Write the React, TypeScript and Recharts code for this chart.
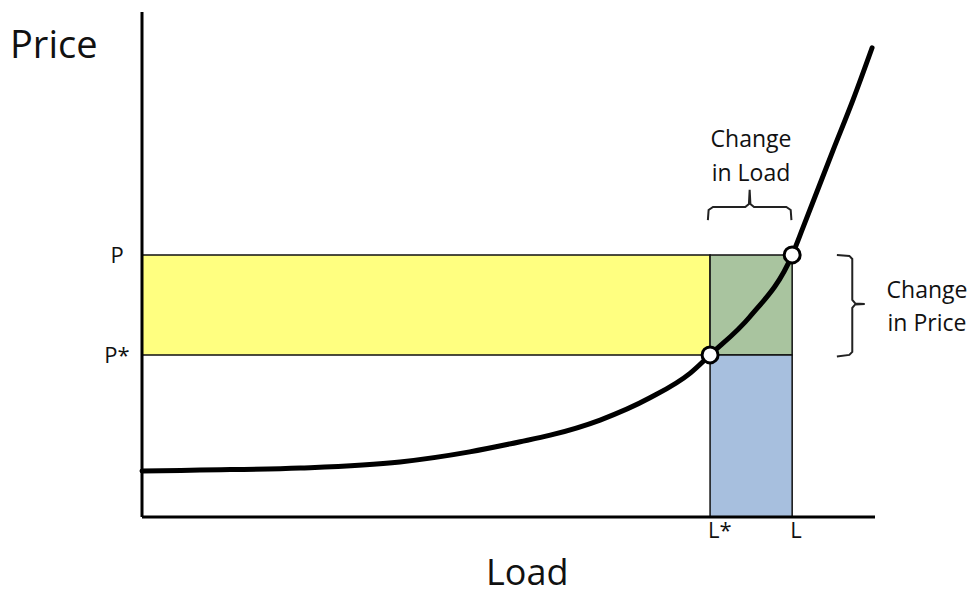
import React from 'react';
import {
  ComposedChart,
  Line,
  XAxis,
  YAxis,
  ReferenceArea,
  ReferenceDot,
} from 'recharts';

// supply curve (load 0-100, price 0-100)
const curve = [
  { load: 0, price: 9.1 },
  { load: 7.9, price: 9.3 },
  { load: 21.6, price: 9.7 },
  { load: 35.2, price: 10.9 },
  { load: 44.7, price: 12.9 },
  { load: 51.6, price: 14.9 },
  { load: 55.7, price: 16.2 },
  { load: 62.5, price: 19.2 },
  { load: 69.3, price: 23.6 },
  { load: 74.8, price: 28.5 },
  { load: 77.5, price: 32.1 },
  { load: 82.9, price: 39.6 },
  { load: 88.7, price: 51.9 },
  { load: 90.2, price: 57.4 },
  { load: 94.3, price: 72.7 },
  { load: 97.0, price: 82.6 },
  { load: 99.6, price: 92.9 },
];

const loadTicks = [77.5, 88.7];
const loadLabels = ['L*', 'L'];
const priceTicks = [32.1, 51.9];
const priceLabels = ['P*', 'P'];

// annotation braces
const loadBrace = [
  { load: 77.2, price: 58.8 },
  { load: 77.3, price: 60.8 },
  { load: 77.9, price: 61.4 },
  { load: 82.3, price: 61.4 },
  { load: 82.8, price: 62.0 },
  { load: 82.9, price: 64.8 },
  { load: 83.0, price: 62.0 },
  { load: 83.5, price: 61.4 },
  { load: 87.9, price: 61.4 },
  { load: 88.5, price: 60.8 },
  { load: 88.6, price: 58.8 },
];
const priceBrace = [
  { load: 94.8, price: 51.9 },
  { load: 96.5, price: 51.7 },
  { load: 96.9, price: 51.1 },
  { load: 96.9, price: 43.0 },
  { load: 97.3, price: 42.3 },
  { load: 98.6, price: 42.2 },
  { load: 97.3, price: 42.1 },
  { load: 96.9, price: 41.4 },
  { load: 96.9, price: 32.7 },
  { load: 96.5, price: 32.1 },
  { load: 94.8, price: 31.8 },
];

const font = '"Open Sans", sans-serif';

const XTick = (props: any) => {
  const { x, y, payload } = props;
  const i = loadTicks.indexOf(payload.value);
  return (
    <text x={x - 2} y={y + 13} textAnchor="start" fontSize={22} fontFamily={font} fill="#111">
      {loadLabels[i]}
    </text>
  );
};

const YTick = (props: any) => {
  const { y, payload } = props;
  const i = priceTicks.indexOf(payload.value);
  return (
    <text x={117} y={y + 8} textAnchor="middle" fontSize={22} fontFamily={font} fill="#111">
      {priceLabels[i]}
    </text>
  );
};

const textStyle: React.CSSProperties = {
  position: 'absolute',
  fontFamily: font,
  color: '#111',
  lineHeight: 1,
  whiteSpace: 'nowrap',
};

export default function App() {
  return (
    <div style={{ position: 'absolute', left: 0, top: 0, width: 977, height: 596, background: '#fff' }}>
      <ComposedChart
        width={977}
        height={596}
        data={curve}
        margin={{ top: 12, right: 102, bottom: 39, left: 0 }}
      >
        <XAxis
          dataKey="load"
          type="number"
          domain={[0, 100]}
          ticks={loadTicks}
          tick={<XTick />}
          tickLine={false}
          axisLine={{ stroke: '#000', strokeWidth: 3 }}
          height={40}
        />
        <YAxis
          type="number"
          domain={[0, 100]}
          ticks={priceTicks}
          tick={<YTick />}
          tickLine={false}
          axisLine={{ stroke: '#000', strokeWidth: 3 }}
          width={142}
        />
        <ReferenceArea x1={0} x2={77.5} y1={32.1} y2={51.9} fill="#FFFF80" fillOpacity={1} stroke="#111" strokeWidth={1.5} />
        <ReferenceArea x1={77.5} x2={88.7} y1={32.1} y2={51.9} fill="#A9C49F" fillOpacity={1} stroke="#111" strokeWidth={1.5} />
        <ReferenceArea x1={77.5} x2={88.7} y1={0} y2={32.1} fill="#A7BFDE" fillOpacity={1} stroke="#111" strokeWidth={1.5} />
        <Line
          dataKey="price"
          type="monotone"
          stroke="#000"
          strokeWidth={5}
          strokeLinecap="round"
          dot={false}
          isAnimationActive={false}
        />
        <Line data={loadBrace} dataKey="price" type="linear" stroke="#222" strokeWidth={2} dot={false} isAnimationActive={false} />
        <Line data={priceBrace} dataKey="price" type="linear" stroke="#222" strokeWidth={2} dot={false} isAnimationActive={false} />
        <ReferenceDot x={77.5} y={32.1} r={8} fill="#fff" stroke="#000" strokeWidth={3} />
        <ReferenceDot x={88.7} y={51.9} r={8} fill="#fff" stroke="#000" strokeWidth={3} />
      </ComposedChart>
      <div style={{ ...textStyle, left: 10, top: 24, fontSize: 38 }}>Price</div>
      <div style={{ ...textStyle, left: 486, top: 554, fontSize: 36 }}>Load</div>
      <div style={{ ...textStyle, left: 751, top: 121, fontSize: 23, transform: 'translateX(-50%)', textAlign: 'center', lineHeight: '34px' }}>
        Change<br />in Load
      </div>
      <div style={{ ...textStyle, left: 927, top: 273, fontSize: 23, transform: 'translateX(-50%)', textAlign: 'center', lineHeight: '33px' }}>
        Change<br />in Price
      </div>
    </div>
  );
}
